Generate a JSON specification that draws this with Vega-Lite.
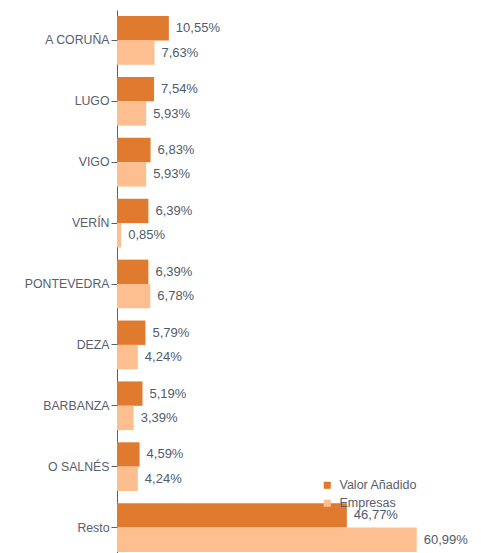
{
  "$schema": "https://vega.github.io/schema/vega-lite/v6.json",
  "autosize": {"type": "none"},
  "padding": {"left": 117, "top": 10, "right": 20, "bottom": 0},
  "width": 344,
  "height": 548,
  "background": "white",
  "data": {
    "values": [
      {"zona": "A CORUÑA", "serie": "Valor Añadido", "valor": 10.55, "label": "10,55%"},
      {"zona": "A CORUÑA", "serie": "Empresas", "valor": 7.63, "label": "7,63%"},
      {"zona": "LUGO", "serie": "Valor Añadido", "valor": 7.54, "label": "7,54%"},
      {"zona": "LUGO", "serie": "Empresas", "valor": 5.93, "label": "5,93%"},
      {"zona": "VIGO", "serie": "Valor Añadido", "valor": 6.83, "label": "6,83%"},
      {"zona": "VIGO", "serie": "Empresas", "valor": 5.93, "label": "5,93%"},
      {"zona": "VERÍN", "serie": "Valor Añadido", "valor": 6.39, "label": "6,39%"},
      {"zona": "VERÍN", "serie": "Empresas", "valor": 0.85, "label": "0,85%"},
      {"zona": "PONTEVEDRA", "serie": "Valor Añadido", "valor": 6.39, "label": "6,39%"},
      {"zona": "PONTEVEDRA", "serie": "Empresas", "valor": 6.78, "label": "6,78%"},
      {"zona": "DEZA", "serie": "Valor Añadido", "valor": 5.79, "label": "5,79%"},
      {"zona": "DEZA", "serie": "Empresas", "valor": 4.24, "label": "4,24%"},
      {"zona": "BARBANZA", "serie": "Valor Añadido", "valor": 5.19, "label": "5,19%"},
      {"zona": "BARBANZA", "serie": "Empresas", "valor": 3.39, "label": "3,39%"},
      {"zona": "O SALNÉS", "serie": "Valor Añadido", "valor": 4.59, "label": "4,59%"},
      {"zona": "O SALNÉS", "serie": "Empresas", "valor": 4.24, "label": "4,24%"},
      {"zona": "Resto", "serie": "Valor Añadido", "valor": 46.77, "label": "46,77%"},
      {"zona": "Resto", "serie": "Empresas", "valor": 60.99, "label": "60,99%"}
    ]
  },
  "encoding": {
    "y": {
      "field": "zona",
      "type": "nominal",
      "sort": ["A CORUÑA", "LUGO", "VIGO", "VERÍN", "PONTEVEDRA", "DEZA", "BARBANZA", "O SALNÉS", "Resto"],
      "scale": {"paddingInner": 0.2, "paddingOuter": 0.1},
      "axis": {
        "title": null,
        "labelFont": "Liberation Sans",
        "labelFontSize": 12.3,
        "labelColor": "#59606b",
        "labelPadding": 2,
        "tickColor": "#59606b",
        "tickSize": 6,
        "domainColor": "#59606b",
        "domainWidth": 1
      }
    },
    "yOffset": {
      "field": "serie",
      "type": "nominal",
      "sort": ["Valor Añadido", "Empresas"],
      "scale": {"paddingInner": 0}
    }
  },
  "layer": [
    {
      "mark": {"type": "bar"},
      "encoding": {
        "x": {
          "field": "valor",
          "type": "quantitative",
          "scale": {"domain": [0, 70], "nice": false},
          "axis": null
        },
        "color": {
          "field": "serie",
          "type": "nominal",
          "sort": ["Valor Añadido", "Empresas"],
          "scale": {"domain": ["Valor Añadido", "Empresas"], "range": ["#e07a2e", "#fdbf90"]},
          "legend": {
            "title": null,
            "orient": "none",
            "legendX": 204,
            "legendY": 469,
            "symbolType": "square",
            "symbolSize": 50,
            "symbolStrokeWidth": 0,
            "labelFont": "Liberation Sans",
            "labelFontSize": 12.5,
            "labelColor": "#59606b",
            "rowPadding": 5,
            "labelOffset": 6
          }
        }
      }
    },
    {
      "mark": {
        "type": "text",
        "align": "left",
        "baseline": "middle",
        "dx": 7,
        "font": "Liberation Sans",
        "fontSize": 13,
        "color": "#4f5b6b"
      },
      "encoding": {
        "x": {"field": "valor", "type": "quantitative"},
        "text": {"field": "label"}
      }
    }
  ],
  "config": {"view": {"stroke": null}}
}
